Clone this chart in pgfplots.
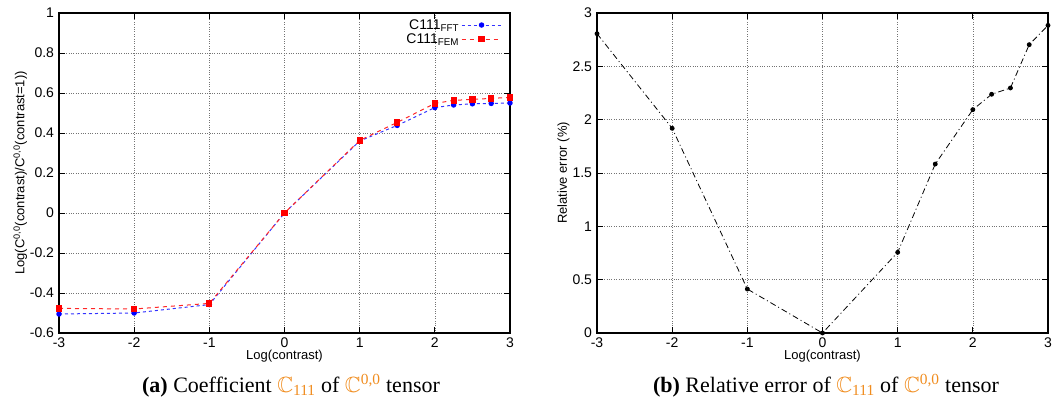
\documentclass[border=0pt]{standalone}
\usepackage{pgfplots}
\pgfplotsset{compat=1.18}
\usepackage{amssymb}
\usepackage{fontspec}
\setmainfont{Liberation Sans}
\newfontfamily\capfont{Liberation Serif}
\definecolor{caporange}{RGB}{240,140,30}
\pgfplotstableread{
x fft fem
-3 -0.505 -0.477
-2 -0.500 -0.480
-1 -0.458 -0.452
0 0.000 0.000
1 0.360 0.363
1.5 0.438 0.453
2 0.527 0.548
2.25 0.540 0.563
2.5 0.546 0.568
2.75 0.548 0.573
3 0.550 0.578
}\coeff
\pgfplotstableread{
x err
-3 2.806
-2 1.919
-1 0.412
0 0.000
1 0.756
1.5 1.584
2 2.094
2.25 2.238
2.5 2.297
2.75 2.703
3 2.884
}\relerr
\pgfplotsset{
  gnu/.style={
    scale only axis, width=451bp, height=320bp,
    xmin=-3, xmax=3,
    xtick={-3,-2,-1,0,1,2,3},
    xticklabels={-3,-2,-1,0,1,2,3},
    grid=major,
    major grid style={black!55, dotted, line width=0.6pt},
    axis line style={line width=1.3pt},
    tick style={black, line width=0.8pt},
    tick align=inside,
    major tick length=6bp,
    ticklabel style={font=\fontsize{14bp}{16bp}\selectfont},
    xticklabel style={yshift=-1.5bp},
    yticklabel style={xshift=-1.5bp},
    label style={font=\fontsize{13bp}{14bp}\selectfont},
    xlabel={Log(contrast)},
    xlabel style={yshift=5bp},
    ylabel style={yshift=-4bp},
    anchor=south west,
  }
}
\begin{document}
\begin{tikzpicture}[x=1bp,y=1bp]
\useasboundingbox (0,0) rectangle (1054,412);
\begin{axis}[gnu, at={(59bp,79bp)},
  ymin=-0.6, ymax=1,
  ytick={-0.6,-0.4,-0.2,0,0.2,0.4,0.6,0.8,1},
  yticklabels={-0.6,-0.4,-0.2,0,0.2,0.4,0.6,0.8,1},
  ylabel={Log(C\textsuperscript{0,0}(contrast)/C\textsuperscript{0,0}(contrast=1))},
  legend style={at={(0.985,0.99)}, anchor=north east, draw=none, fill=none,
    font=\fontsize{14bp}{14bp}\selectfont, row sep=-1bp, inner sep=1bp},
  legend cell align=right,
  legend plot pos=right,
  legend image code/.code={\draw[mark repeat=2,mark phase=2] plot coordinates {(0bp,0bp)(20bp,0bp)(40bp,0bp)};},
]
\addplot[blue!80, dashed, dash pattern=on 3bp off 3bp, line width=1pt, mark=*, mark size=2.2bp, mark options={solid, fill=blue, draw=blue}] table[x=x,y=fft]{\coeff};
\addlegendentry{C111\textsubscript{FFT}}
\addplot[red!85, dashed, dash pattern=on 4bp off 4bp, line width=1pt, mark=square*, mark size=2.6bp, mark options={solid, fill=red, draw=red}] table[x=x,y=fem]{\coeff};
\addlegendentry{C111\textsubscript{FEM}}
\end{axis}
\begin{axis}[gnu, at={(597bp,79bp)},
  ymin=0, ymax=3,
  ytick={0,0.5,1,1.5,2,2.5,3},
  yticklabels={0,0.5,1,1.5,2,2.5,3},
  ylabel={Relative error (\%)},
]
\addplot[black, dash pattern=on 6bp off 3bp on 1bp off 3bp, line width=0.8pt, mark=*, mark size=2bp, mark options={solid, fill=black}] table[x=x,y=err]{\relerr};
\end{axis}
\node[font=\capfont\fontsize{22bp}{24bp}\selectfont, anchor=base] at (291,20) {\textbf{(a)} Coefficient {\color{caporange}$\mathbb{C}$\textsubscript{111}} of {\color{caporange}$\mathbb{C}$\textsuperscript{0,0}} tensor};
\node[font=\capfont\fontsize{22bp}{24bp}\selectfont, anchor=base] at (826,20) {\textbf{(b)} Relative error of {\color{caporange}$\mathbb{C}$\textsubscript{111}} of {\color{caporange}$\mathbb{C}$\textsuperscript{0,0}} tensor};
\end{tikzpicture}
\end{document}
